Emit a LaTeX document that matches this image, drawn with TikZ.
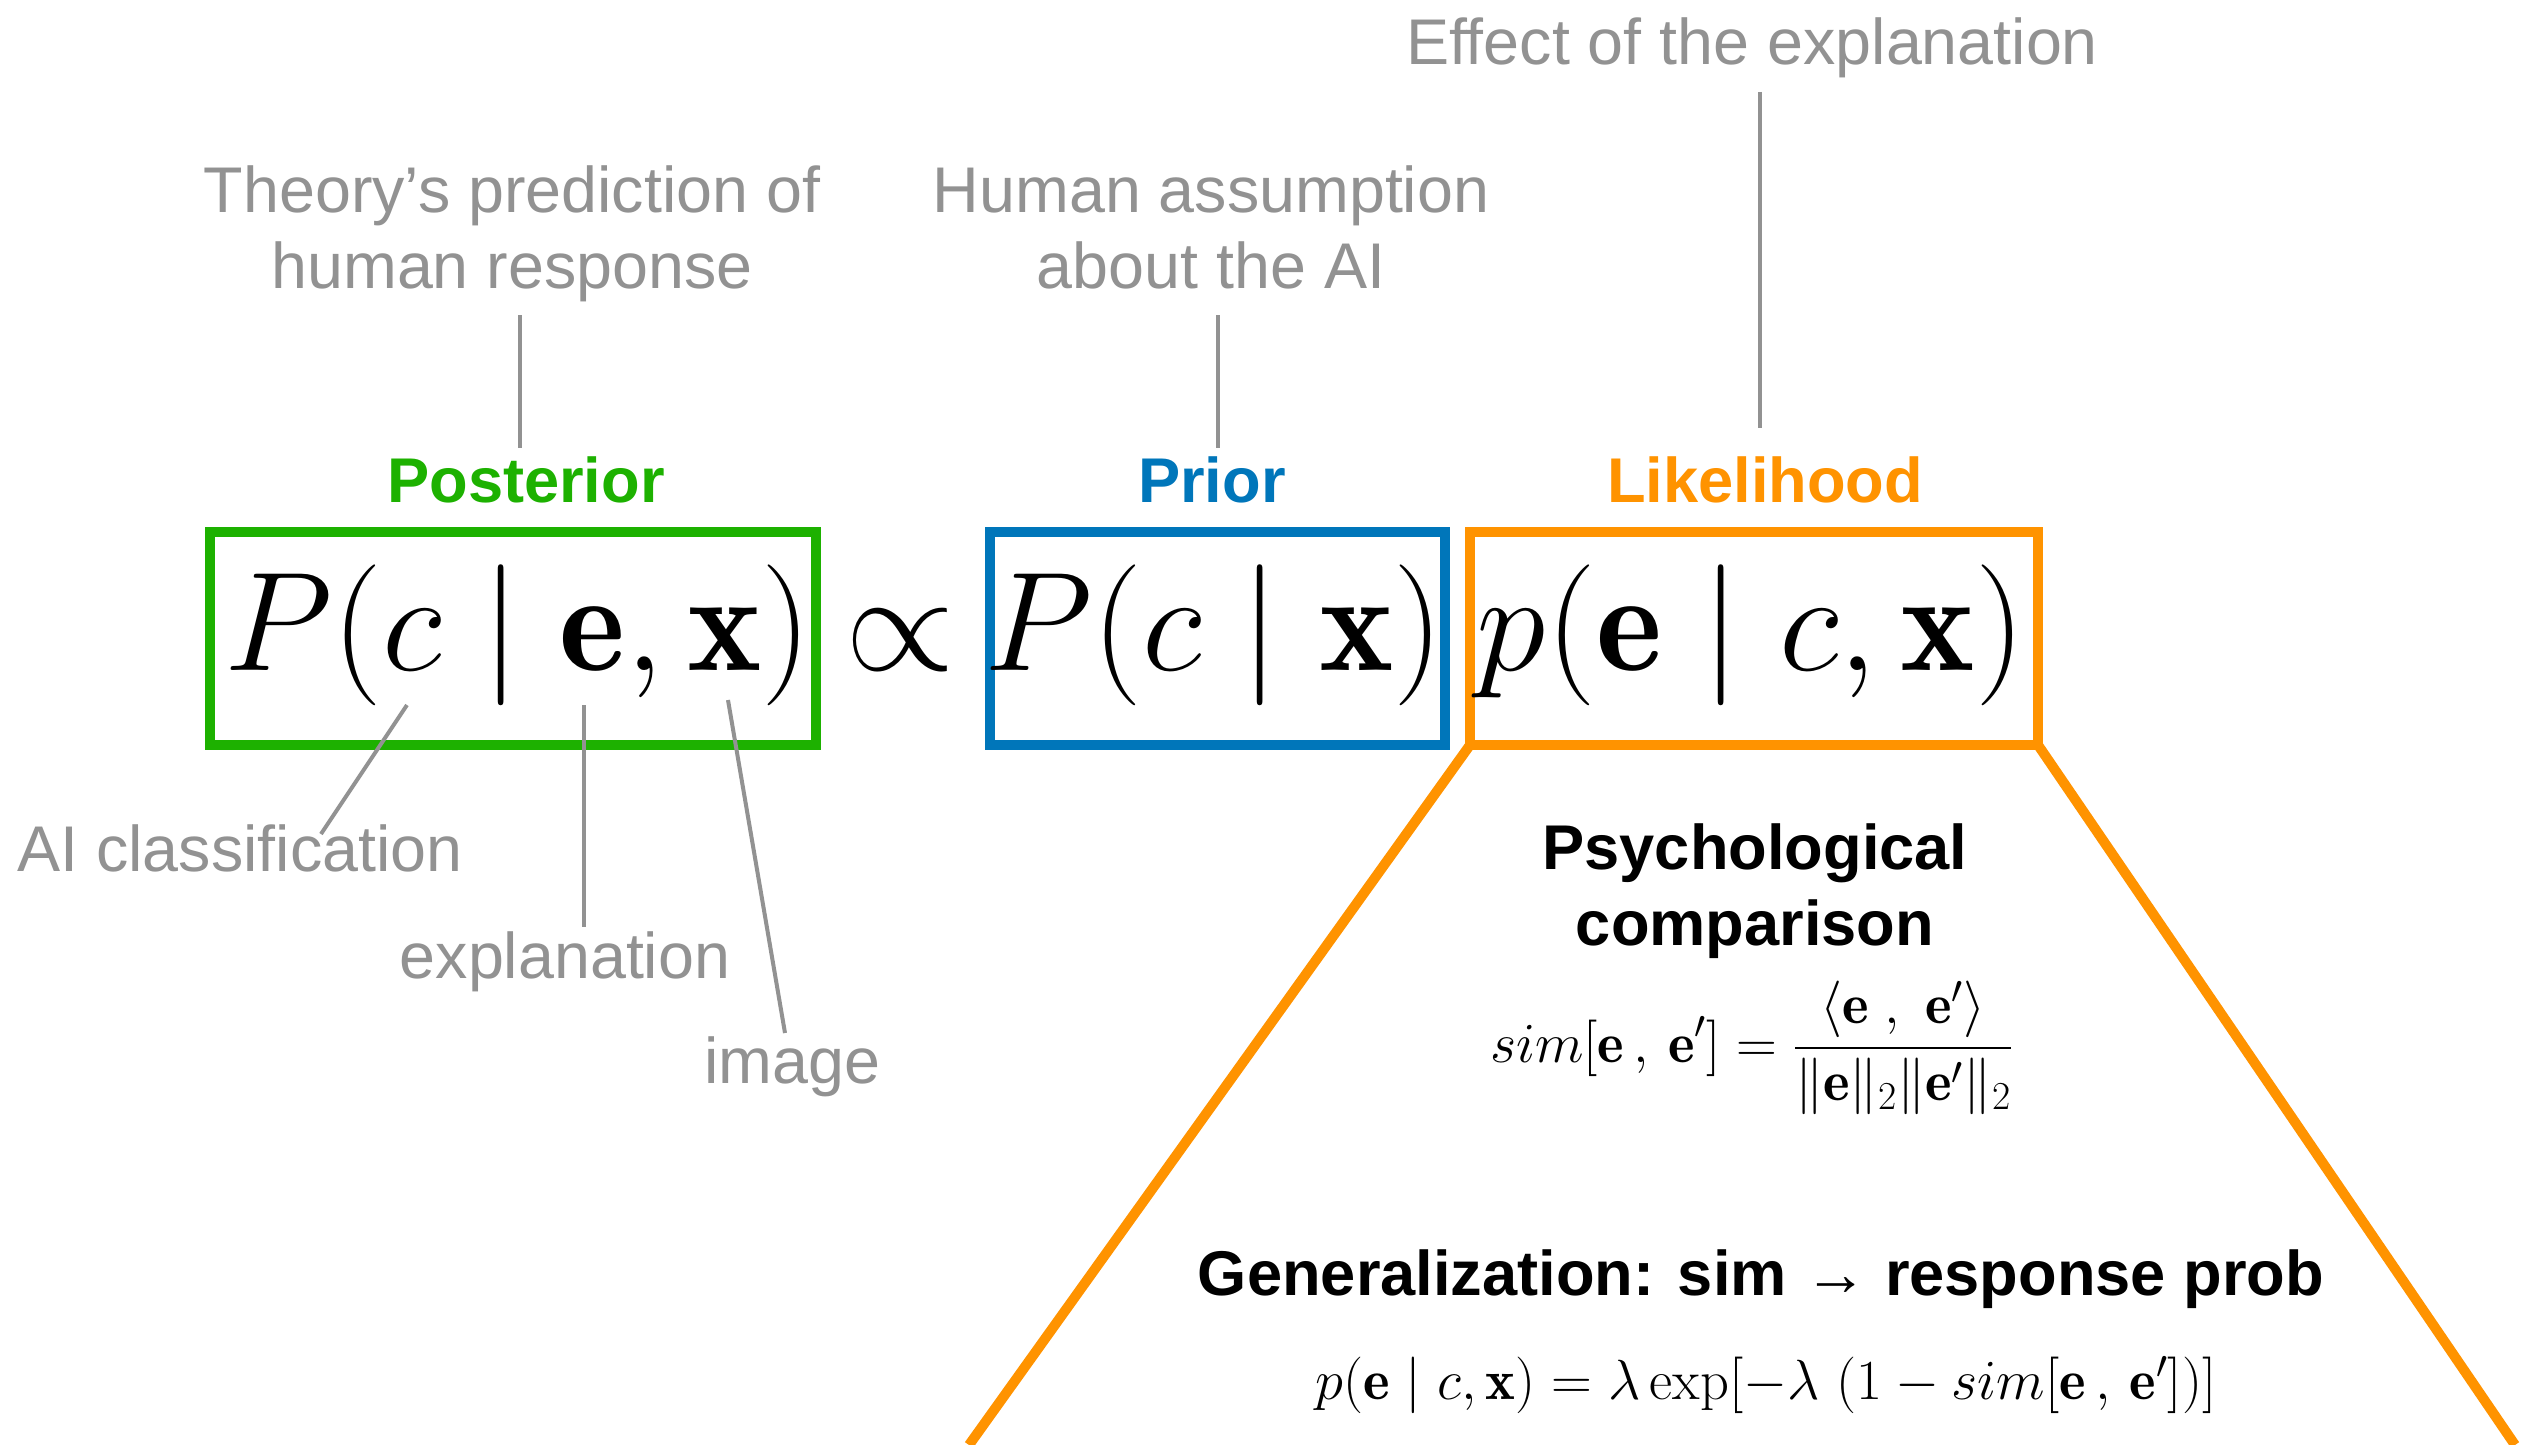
\RequirePackage{fix-cm}
\documentclass[tikz,border=0pt]{standalone}
\usepackage{amsmath}
\usepackage{fontspec}
\newfontfamily\labfont{Liberation Sans}
\definecolor{labgray}{RGB}{146,146,146}
\definecolor{postgreen}{RGB}{29,177,0}
\definecolor{priorblue}{RGB}{0,118,186}
\definecolor{likorange}{RGB}{255,147,0}
\tikzset{
  graytxt/.style={text=labgray, font=\labfont\fontsize{32.3pt}{38pt}\selectfont, inner sep=0pt, align=center},
  boldlbl/.style={font=\labfont\bfseries\fontsize{31.6pt}{38pt}\selectfont, inner sep=0pt, align=center},
  frame/.style={draw=#1, line width=5pt, inner sep=0pt, outer sep=0pt},
  graylink/.style={draw=labgray, line width=2pt},
  orangeline/.style={draw=likorange, line width=5pt},
  bigmath/.style={font=\fontsize{70.5pt}{84pt}\selectfont, inner sep=0pt},
  midmath/.style={font=\fontsize{28.3pt}{34pt}\selectfont, inner sep=0pt},
}
\begin{document}
\begin{tikzpicture}[x=0.5pt,y=-0.5pt]
\useasboundingbox (0,0) rectangle (2539,1445);
\fill[white] (0,0) rectangle (2539,1445);

% top labels
\node[graytxt, anchor=base] (effect) at (1752,65) {Effect of the explanation};
\node[graytxt] (theory) at (512,234) {Theory’s prediction of\\human response};
\node[graytxt] (humanassm) at (1211,227.5) {Human assumption\\about the AI};

\node[boldlbl, text=postgreen, anchor=base] (postlab) at (526,502) {Posterior};
\node[boldlbl, text=priorblue, anchor=base] (priorlab) at (1212,502) {Prior};
\node[boldlbl, text=likorange, anchor=base] (liklab) at (1765,502) {Likelihood};

\coordinate (t1) at (520,315); \coordinate (t2) at (520,448);
\coordinate (h1) at (1218,315); \coordinate (h2) at (1218,448);
\coordinate (e1) at (1760,92); \coordinate (e2) at (1760,428);
\draw[graylink] (t1) -- (t2);
\draw[graylink] (h1) -- (h2);
\draw[graylink] (e1) -- (e2);

% boxes
\node[frame=postgreen, minimum width=303pt, minimum height=106.5pt] (postbox) at (513,638.5) {};
\node[frame=priorblue, minimum width=227.5pt, minimum height=106.5pt] (priorbox) at (1217.5,638.5) {};
\node[frame=likorange, minimum width=284pt, minimum height=106.5pt] (likbox) at (1754,638.5) {};

% formulas
\node[bigmath, anchor=base] (postf) at (518,670) {$P(c \mid \mathbf{e}, \mathbf{x})$};
\node[bigmath, anchor=base] (proptosym) at (900,670) {$\propto$};
\node[bigmath, anchor=base] (priorf) at (1214,670) {$P(c \mid \mathbf{x})$};
\node[bigmath, anchor=base] (likf) at (1751,670) {$p(\mathbf{e} \mid c, \mathbf{x})$};

% lower-left labels
\node[graytxt, anchor=base] (aiclass) at (240,871) {AI classification};
\node[graytxt, anchor=base] (explan) at (565,978) {explanation};
\node[graytxt, anchor=base] (imagelbl) at (792,1083) {image};
\coordinate (a1) at (407,705); \coordinate (a2) at (321,834);
\coordinate (x1) at (584,705); \coordinate (x2) at (584,927);
\coordinate (i1) at (728,700); \coordinate (i2) at (785,1033);
\draw[graylink] (a1) -- (a2);
\draw[graylink] (x1) -- (x2);
\draw[graylink] (i1) -- (i2);

% trapezoid
\coordinate (trapL) at (969,1445);
\coordinate (trapR) at (2515,1445);
\draw[orangeline] (likbox.south west) -- (trapL);
\draw[orangeline] (likbox.south east) -- (trapR);

% zoom contents
\node[boldlbl] (psych) at (1755,891) {Psychological\\comparison};
\node[midmath, anchor=base] (simf) at (1752,1062) {$\displaystyle sim[\mathbf{e}\,,\,\mathbf{e}'] = \frac{\langle \mathbf{e}\;,\;\mathbf{e}'\rangle}{\|\mathbf{e}\|_2\|\mathbf{e}'\|_2}$};
\node[boldlbl, anchor=base] (gen) at (1761,1295) {Generalization: sim → response prob};
\node[midmath, anchor=base] (likeq) at (1766,1399) {$p(\mathbf{e} \mid c, \mathbf{x}) = \lambda\exp[-\lambda\ (1 - sim[\mathbf{e}\,,\,\mathbf{e}'])]$};
\end{tikzpicture}
\end{document}
